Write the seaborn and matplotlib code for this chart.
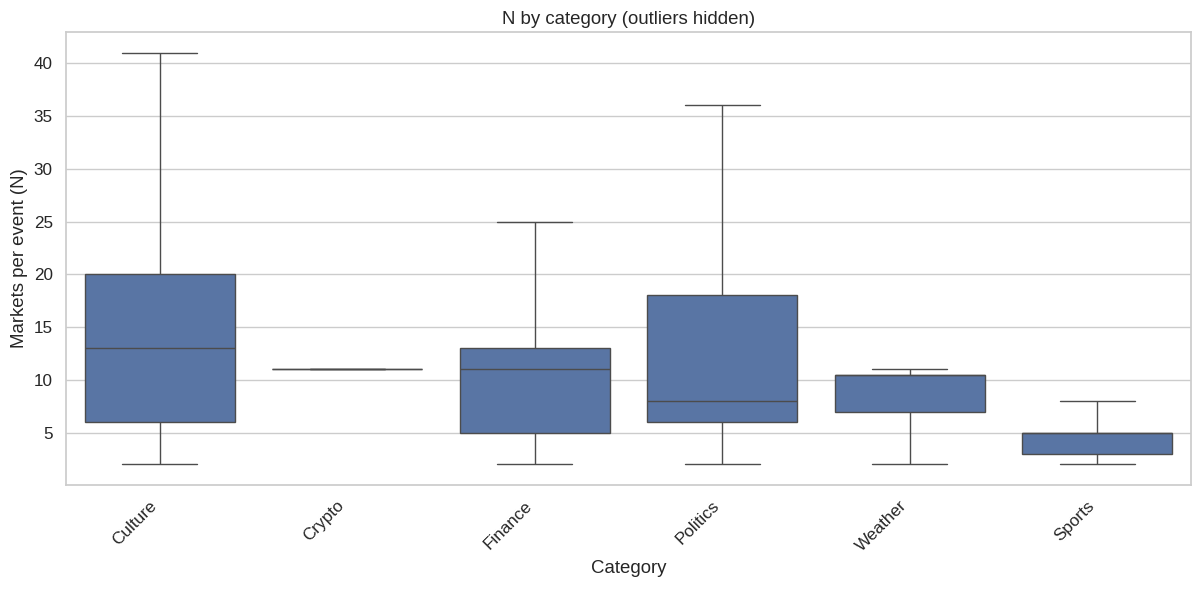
import numpy as np
import pandas as pd
import matplotlib
matplotlib.use("Agg")
import matplotlib.pyplot as plt
import seaborn as sns

categories = ["Culture", "Crypto", "Finance", "Politics", "Weather", "Sports"]
culture_n = [2, 6, 13, 20, 41]
crypto_n = [11]
finance_n = [2, 5, 11, 13, 25]
politics_n = [2, 6, 8, 18, 36]
weather_n = [2, 7, 10.5, 10.5, 11]
sports_n = [2, 3, 5, 5, 8]

values = [culture_n, crypto_n, finance_n, politics_n, weather_n, sports_n]
rows = []
for cat, vals in zip(categories, values):
    for v in vals:
        rows.append({"Category": cat, "N": v})
df = pd.DataFrame(rows)

sns.set_theme(style="whitegrid", font_scale=1.12)
plt.rcParams["font.family"] = ["Liberation Sans", "DejaVu Sans"]

fig, ax = plt.subplots(figsize=(12, 5.89), dpi=100)
sns.boxplot(data=df, x="Category", y="N", order=categories, showfliers=False, ax=ax)
ax.set_title("N by category (outliers hidden)")
ax.set_xlabel("Category")
ax.set_ylabel("Markets per event (N)")
plt.setp(ax.get_xticklabels(), rotation=45, ha="right")
fig.subplots_adjust(left=0.055, right=0.9925, top=0.9457, bottom=0.1766)
fig.savefig("out.png", dpi=100)
